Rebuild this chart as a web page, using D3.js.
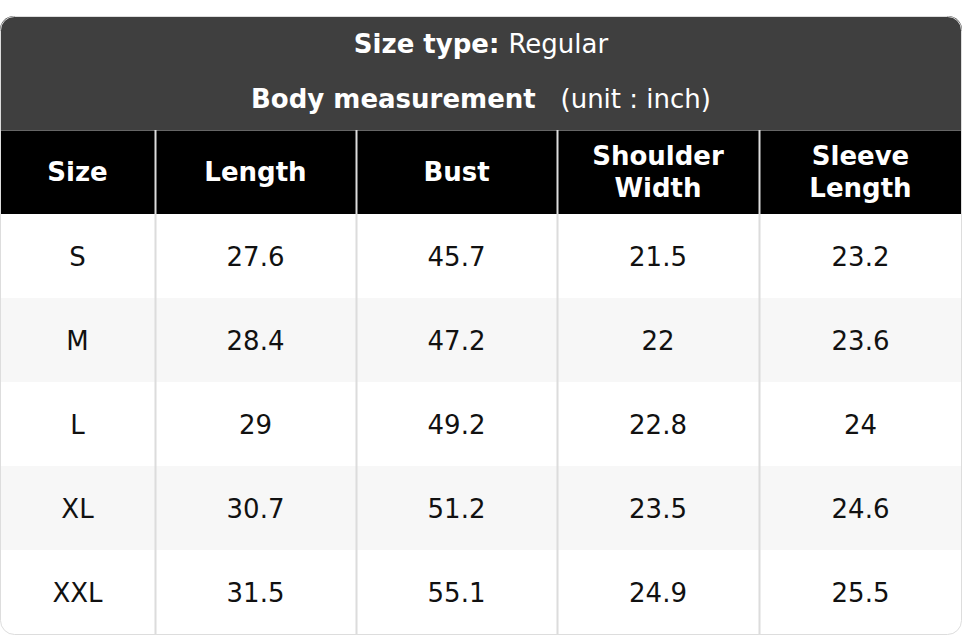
<!DOCTYPE html>
<html><head><meta charset="utf-8">
<script src="https://cdn.jsdelivr.net/npm/d3@7"></script>
<style>body{margin:0;background:#fff}svg{display:block;font-family:"DejaVu Sans",sans-serif}</style>
</head><body><svg id="c" width="962" height="636"></svg>
<script>
var columns = ["Size", "Length", "Bust", "Shoulder\nWidth", "Sleeve\nLength"];
var sizes = ["S", "M", "L", "XL", "XXL"];
var lengthVals = ["27.6", "28.4", "29", "30.7", "31.5"];
var bustVals = ["45.7", "47.2", "49.2", "51.2", "55.1"];
var shoulderVals = ["21.5", "22", "22.8", "23.5", "24.9"];
var sleeveVals = ["23.2", "23.6", "24", "24.6", "25.5"];

(function draw() {
    var rows = sizes.map(function(s, i){ return [s, lengthVals[i], bustVals[i], shoulderVals[i], sleeveVals[i]]; });
    var svg = d3.select("#c");
    var W = 962, y0 = 16, titleH = 114, headH = 84, rowH = 84;
    var edges = [0, 155, 356, 557, 759, 962];
    var bodyTop = y0 + titleH + headH;

    svg.append("clipPath").attr("id", "clip").append("rect")
        .attr("x", 0).attr("y", y0).attr("width", W).attr("height", 636 - y0 - 1).attr("rx", 14);
    var g = svg.append("g").attr("clip-path", "url(#clip)");

    g.append("rect").attr("x", 0).attr("y", y0).attr("width", W).attr("height", titleH).attr("fill", "#3f3f3f");
    var t1 = g.append("text").attr("x", W/2).attr("y", y0 + 37).attr("text-anchor", "middle")
        .attr("fill", "#fff").attr("font-size", 26);
    t1.append("tspan").attr("font-weight", "bold").text("Size type: ");
    t1.append("tspan").text("Regular");
    var t2 = g.append("text").attr("x", W/2).attr("y", y0 + 92).attr("text-anchor", "middle")
        .attr("fill", "#fff").attr("font-size", 26).style("white-space", "pre");
    t2.append("tspan").attr("font-weight", "bold").text("Body measurement");
    t2.append("tspan").text("\u00a0\u00a0\u00a0(unit : inch)");

    g.append("rect").attr("x", 0).attr("y", y0 + titleH).attr("width", W).attr("height", headH).attr("fill", "#000");
    g.append("line").attr("x1", 0).attr("x2", W).attr("y1", y0 + titleH + 0.5).attr("y2", y0 + titleH + 0.5)
        .attr("stroke", "#666");

    columns.forEach(function(c, j){
        var cx = (edges[j] + edges[j+1]) / 2, lines = c.split("\n");
        var tx = g.append("text").attr("text-anchor", "middle").attr("fill", "#fff")
            .attr("font-size", 26).attr("font-weight", "bold");
        lines.forEach(function(l, k){
            tx.append("tspan").attr("x", cx)
              .attr("y", y0 + titleH + headH/2 + 9 + (k - (lines.length - 1)/2) * 32).text(l);
        });
    });

    var rg = g.selectAll("g.row").data(rows).enter().append("g").attr("class", "row")
        .attr("transform", function(d, i){ return "translate(0," + (bodyTop + i*rowH) + ")"; });
    rg.append("rect").attr("width", W).attr("height", rowH)
        .attr("fill", function(d, i){ return i % 2 ? "#f7f7f7" : "#fff"; });
    rg.selectAll("text").data(function(d){ return d; }).enter().append("text")
        .attr("x", function(d, j){ return (edges[j] + edges[j+1]) / 2; })
        .attr("y", rowH/2 + 10).attr("text-anchor", "middle").attr("font-size", 26).attr("fill", "#111")
        .text(function(d){ return d; });

    edges.slice(1, -1).forEach(function(x){
        g.append("line").attr("x1", x + 0.5).attr("x2", x + 0.5).attr("y1", y0 + titleH).attr("y2", 636)
            .attr("stroke", "#dcdcdc").attr("stroke-width", 2);
    });
    svg.append("rect").attr("x", 0.5).attr("y", y0 + 0.5).attr("width", W - 1).attr("height", 636 - y0 - 2)
        .attr("rx", 14).attr("fill", "none").attr("stroke", "#ddd");
})();
</script></body></html>
